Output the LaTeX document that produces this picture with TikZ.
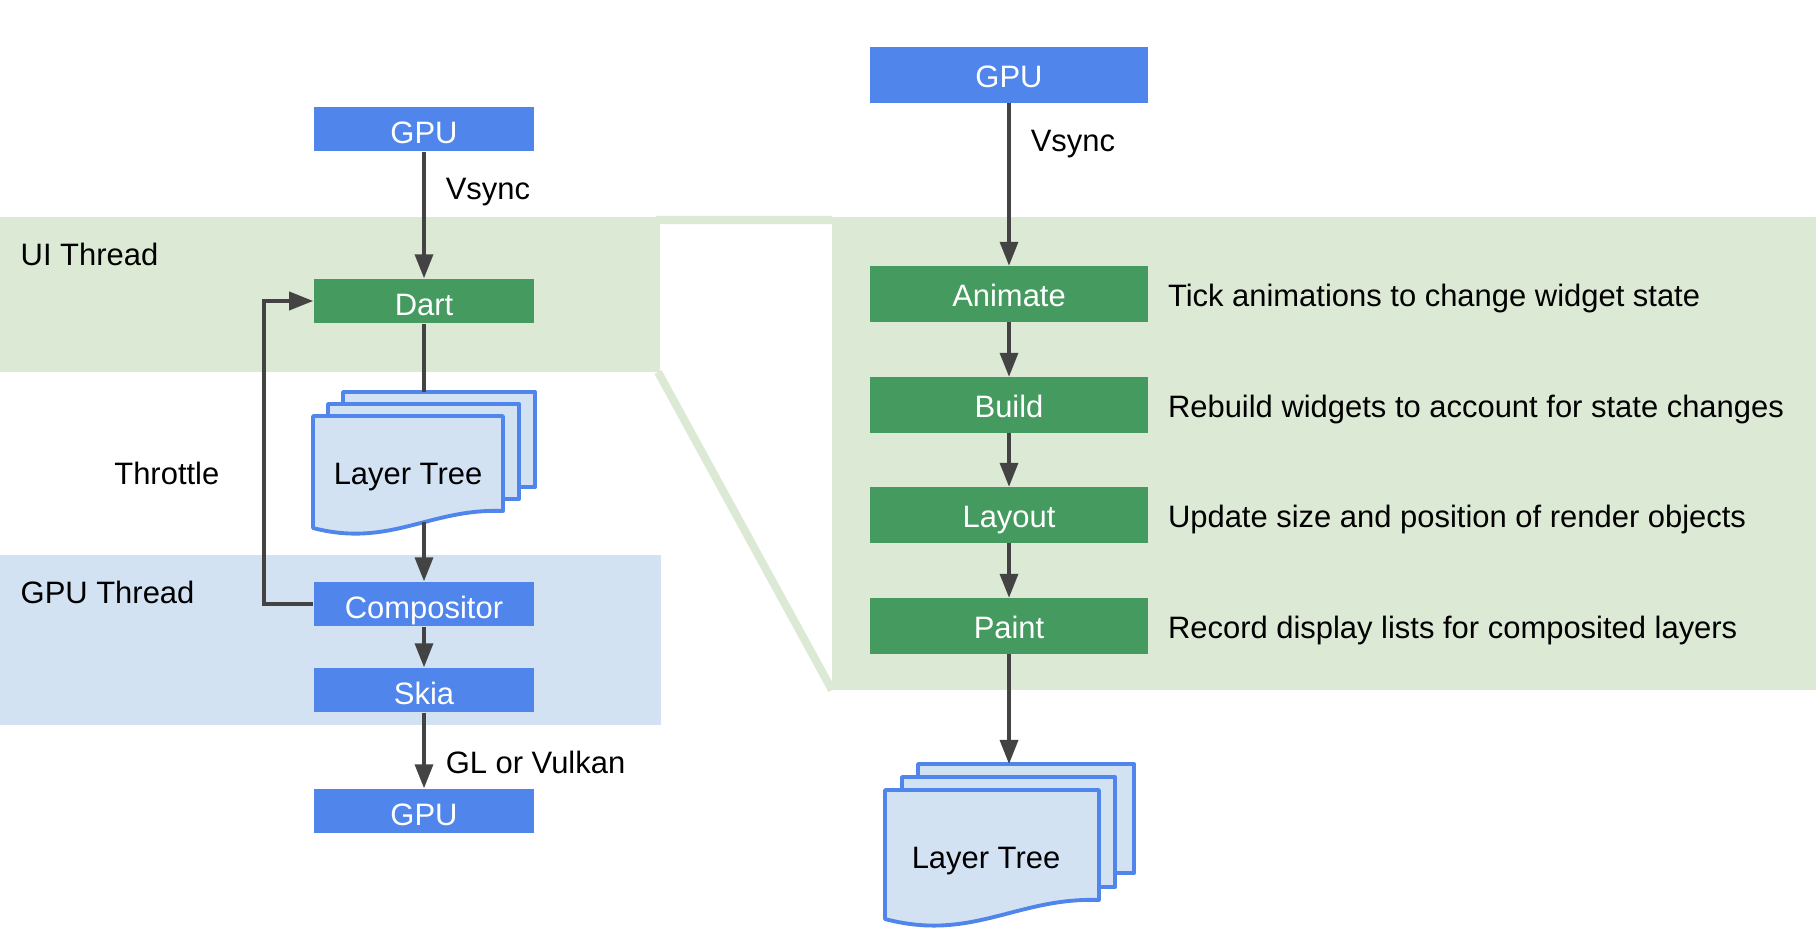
\documentclass[tikz,border=0pt]{standalone}
\usepackage{fontspec}
\setmainfont{Liberation Sans}
\usetikzlibrary{arrows.meta,positioning}
\definecolor{gblue}{HTML}{5086EC}
\definecolor{ggreen}{HTML}{459B5F}
\definecolor{uiband}{HTML}{DCE9D5}
\definecolor{gpuband}{HTML}{D2E2F2}
\definecolor{docfill}{HTML}{D2E2F2}
\definecolor{arrowgray}{HTML}{434343}

\begin{document}
\begin{tikzpicture}[x=0.01cm,y=-0.01cm,
  font=\fontsize{8.8}{10.5}\selectfont,
  bluebox/.style={fill=gblue, text=white, minimum width=2.2cm, minimum height=0.44cm, inner sep=0pt, text height=0.82em, text depth=0pt},
  greenbox/.style={fill=ggreen, text=white, minimum width=2.2cm, minimum height=0.44cm, inner sep=0pt, text height=0.85em, text depth=0pt},
  bigbox/.style={minimum width=2.77cm, minimum height=0.55cm, text height=0.72em},
  flow/.style={draw=arrowgray, line width=1pt, -{Triangle[length=0.24cm,width=0.18cm]}},
  plain/.style={draw=arrowgray, line width=1pt},
  page/.style={draw=gblue, fill=docfill, line width=1.1pt, line join=round},
  tag/.style={inner sep=0pt},
  desc/.style={inner sep=0pt, text height=0.72em, text depth=0pt}]
\useasboundingbox (0,0) rectangle (1816,946);

% thread bands
\fill[uiband] (0,217) rectangle (660,372);
\fill[uiband] (832,217) rectangle (1816,690);
\draw[uiband, line width=2.3pt] (656,220) -- (832,220) (658,372) -- (832,690);
\fill[gpuband] (0,555) rectangle (661,725);
\node[tag, anchor=west] (uilabel) at (20,254) {UI Thread};
\node[tag, anchor=west] (gpulabel) at (20,592) {GPU Thread};

% left pipeline
\node[bluebox] (gpuin) at (424,129) {GPU};
\node[greenbox] (dart) at (424,301) {Dart};
\node[bluebox] (compositor) at (424,604) {Compositor};
\node[bluebox] (skia) at (424,690) {Skia};
\node[bluebox] (gpuout) at (424,811) {GPU};

\draw[page] (343,392) rectangle (535,487);
\draw[page] (328,404) rectangle (519,499);
\draw[page] (313,416) -- (503,416) -- (503,511) .. controls (430,508) and (390,548) .. (313,528) -- cycle;
\node (treeleft) at (408,477) {Layer Tree};
\coordinate (treelefttop) at (424,392);
\coordinate (treeleftbot) at (424,522);

\draw[flow] (gpuin) -- node[tag, pos=.316, anchor=west, xshift=0.2cm] {Vsync} (dart);
\draw[plain] (dart) -- (treelefttop);
\draw[flow] (treeleftbot) -- (compositor);
\draw[flow] (compositor) -- (skia);
\draw[flow] (skia) -- node[tag, pos=.653, anchor=west, xshift=0.2cm] {GL or Vulkan} (gpuout);
\draw[flow] (compositor.west) -- ++(-49,0) |- (dart.west);
\node[tag, anchor=east] (throttle) at (220,473) {Throttle};

% right pipeline
\node[bluebox, bigbox] (gpuright) at (1009,75) {GPU};
\node[greenbox, bigbox] (animate) at (1009,294) {Animate};
\node[greenbox, bigbox] (build) at (1009,405) {Build};
\node[greenbox, bigbox] (layout) at (1009,515) {Layout};
\node[greenbox, bigbox] (paint) at (1009,626) {Paint};
\node[desc, right=0.19cm of animate] (animatetxt) {Tick animations to change widget state};
\node[desc, right=0.19cm of build] (buildtxt) {Rebuild widgets to account for state changes};
\node[desc, right=0.19cm of layout] (layouttxt) {Update size and position of render objects};
\node[desc, right=0.19cm of paint] (painttxt) {Record display lists for composited layers};

\draw[page] (918,764) rectangle (1134,873);
\draw[page] (902,777) rectangle (1115,887);
\draw[page] (885,790) -- (1099,790) -- (1099,900) .. controls (1017,897) and (972,942) .. (885,919) -- cycle;
\node (treeright) at (986,861.5) {Layer Tree};
\coordinate (treerighttop) at (1009,764);

\draw[flow] (gpuright) -- node[tag, pos=.254, anchor=west, xshift=0.2cm] {Vsync} (animate);
\draw[flow] (animate) -- (build);
\draw[flow] (build) -- (layout);
\draw[flow] (layout) -- (paint);
\draw[flow] (paint) -- (treerighttop);
\end{tikzpicture}
\end{document}
